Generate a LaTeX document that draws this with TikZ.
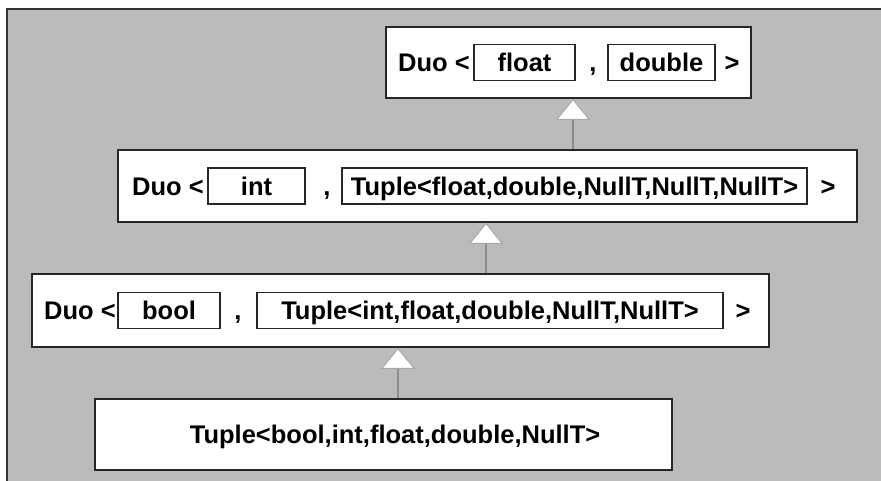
\documentclass[tikz,border=0pt]{standalone}
\usepackage{fontspec}
\setmainfont{Liberation Sans}
\usetikzlibrary{arrows.meta}
\definecolor{bggray}{HTML}{BBBBBB}
\definecolor{framegray}{HTML}{333333}
\definecolor{linegray}{HTML}{8C8C8C}
\definecolor{tipgray}{HTML}{A8A8A8}
\tikzset{
  outerbox/.style={draw=black!85, line width=1.6pt, fill=white, inner sep=0pt},
  innerbox/.style={draw=black!85, line width=1.3pt, fill=white, inner sep=0pt, minimum height=36pt,
     font=\fontsize{25.5}{29}\selectfont\bfseries, text height=18.3pt, text depth=0pt},
  lbl/.style={inner sep=0pt, font=\fontsize{25.5}{29}\selectfont\bfseries, text height=18.3pt, text depth=0pt},
  inh/.style={draw=linegray, line width=1.4pt,
     -{Triangle[length=21pt, width=34pt, fill=white, color=tipgray, line width=1pt]}}
}
\begin{document}
\begin{tikzpicture}[x=1pt,y=1pt]
\useasboundingbox (0,0) rectangle (881,481);
\fill[white] (0,0) rectangle (881,481);
\fill[bggray] (7,0) rectangle (881,472);
\draw[framegray, line width=2pt] (7,0) -- (7,472) -- (881,472);

% outer boxes
\node[outerbox, minimum width=365pt, minimum height=71pt] (b1) at (568.5,418.5) {};
\node[outerbox, minimum width=739pt, minimum height=72pt] (b2) at (487.5,295) {};
\node[outerbox, minimum width=737pt, minimum height=73pt] (b3) at (400.5,170.5) {};
\node[outerbox, minimum width=577pt, minimum height=71pt] (b4) at (383.5,46.5) {};

% box 1 contents
\node[lbl, anchor=west] (d1) at (398,418.5) {Duo <};
\node[innerbox, minimum width=101pt] (f1) at (524.5,418.5) {float};
\node[lbl] (c1) at (593,418.5) {,};
\node[innerbox, minimum width=107pt] (g1) at (661.5,418.5) {double};
\node[lbl] (e1) at (732,418.5) {>};

% box 2 contents
\node[lbl, anchor=west] (d2) at (132,295) {Duo <};
\node[innerbox, minimum width=97pt] (f2) at (256.5,295) {int};
\node[innerbox, minimum width=465pt] (g2) at (574.5,295) {Tuple<float,double,NullT,NullT,NullT>};
\node[lbl] (c2) at (327,295) {,};
\node[lbl] (e2) at (828,295) {>};

% box 3 contents
\node[lbl, anchor=west] (d3) at (44,170.5) {Duo <};
\node[innerbox, minimum width=102pt] (f3) at (169,170.5) {bool};
\node[lbl] (c3) at (238,170.5) {,};
\node[innerbox, minimum width=466pt] (g3) at (490,170.5) {Tuple<int,float,double,NullT,NullT>};
\node[lbl] (e3) at (743,170.5) {>};

% box 4 contents
\node[lbl] (t4) at (395,46.5) {Tuple<bool,int,float,double,NullT>};

% connectors
\coordinate (a1) at (573,0);
\coordinate (a2) at (486,0);
\coordinate (a3) at (398,0);
\draw[inh] (a1 |- b2.north) -- (a1 |- b1.south);
\draw[inh] (a2 |- b3.north) -- (a2 |- b2.south);
\draw[inh] (a3 |- b4.north) -- (a3 |- b3.south);
\end{tikzpicture}
\end{document}
